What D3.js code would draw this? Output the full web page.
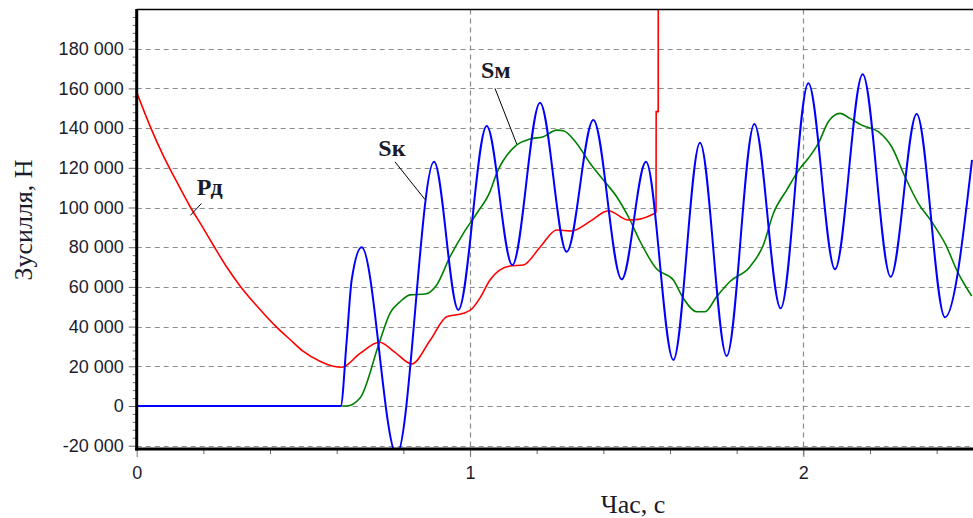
<!DOCTYPE html>
<html><head><meta charset="utf-8">
<script src="https://cdn.jsdelivr.net/npm/d3@7/dist/d3.min.js"></script>
<style>body{margin:0;background:#fff}svg{display:block}</style>
</head><body><svg id="c" width="973" height="518"></svg>
<script>
// ---- data ----
const yTickValues = [-20000, 0, 20000, 40000, 60000, 80000, 100000, 120000, 140000, 160000, 180000];
const xTickValues = [0, 1, 2];
const xTickLabels = ["0", "1", "2"];
const yTitle = "Зусилля, Н";
const xTitle = "Час, с";

// Pд (red)
const pdT = [0, 0.04, 0.08, 0.12, 0.16, 0.2, 0.23, 0.27, 0.31, 0.36, 0.415, 0.46, 0.5, 0.55, 0.59, 0.615,
  0.67, 0.728, 0.775, 0.825, 0.88, 0.93, 0.98, 1.006, 1.03, 1.06, 1.12, 1.16, 1.21, 1.26, 1.305, 1.36, 1.415, 1.475, 1.504, 1.558];
const pdV = [158000, 141000, 126000, 113000, 100500, 89500, 81000, 70000, 60500, 50500, 40500, 33500, 27500, 22500, 20000, 19500,
  26500, 32100, 27000, 21200, 33000, 45000, 46700, 49000, 54500, 63500, 70500, 71000, 80000, 88700, 88200, 93000, 98400, 93700, 94000, 97400];
// Pд jump at the end
const pdJumpT = [1.558, 1.5585, 1.5645, 1.565];
const pdJumpV = [97400, 148300, 148300, 260000];

// Sк (blue)
const skT = [0, 0.612, 0.63, 0.645, 0.675, 0.78, 0.892, 0.965, 1.05, 1.127, 1.21, 1.29, 1.37, 1.455, 1.528,
  1.61, 1.69, 1.77, 1.853, 1.932, 2.015, 2.095, 2.178, 2.262, 2.34, 2.425, 2.506];
const skV = [0, 0, 33000, 63500, 80000, -24500, 123000, 48400, 141000, 71000, 152800, 77700, 144100, 63800, 123000,
  23200, 132600, 25200, 142100, 49200, 162600, 68900, 167100, 65100, 147100, 44700, 124000];

// Sм (green)
const smT = [0.612, 0.63, 0.67, 0.728, 0.76, 0.79, 0.82, 0.865, 0.9, 0.94, 0.98, 1.02, 1.06, 1.08, 1.14, 1.18, 1.22, 1.26, 1.28,
  1.32, 1.36, 1.4, 1.44, 1.48, 1.51, 1.56, 1.61, 1.64, 1.68, 1.705, 1.74, 1.78, 1.84, 1.88, 1.91, 1.95, 1.99, 2.015, 2.045,
  2.075, 2.11, 2.14, 2.175, 2.225, 2.265, 2.305, 2.345, 2.385, 2.425, 2.465, 2.505];
const smV = [0, 0, 4000, 32000, 46800, 52500, 56000, 56400, 61000, 75200, 87000, 97000, 108000, 117200, 131500, 134500, 135700, 139000, 138700,
  132300, 122300, 113900, 105400, 93700, 83000, 69000, 63500, 54300, 47500, 47500, 55100, 62700, 70200, 81100, 97000, 108800, 119700, 124800, 132300,
  143200, 147400, 144900, 141500, 138200, 130600, 115500, 102100, 92800, 81900, 66800, 55400];

const labels = [
  {text: "Рд", t: 0.18, v: 106300, lt: [0.194, 0.161], lv: [102000, 96000]},
  {text: "Sк", t: 0.725, v: 126000, lt: [0.775, 0.865], lv: [123000, 104000]},
  {text: "Sм", t: 1.033, v: 165000, lt: [1.075, 1.14], lv: [160000, 132000]}
];

// ---- drawing ----
const svg = d3.select("#c");
svg.append("rect").attr("width", 973).attr("height", 518).attr("fill", "#fff");

const x = d3.scaleLinear().domain([0, 2.509]).range([136.7, 973]);
const y = d3.scaleLinear().domain([-21660, 199750]).range([449, 9.5]);
const X0 = x.range()[0], X1 = x.range()[1], Y0 = y.range()[0], Y1 = y.range()[1];

svg.append("defs").append("clipPath").attr("id", "clip")
  .append("rect").attr("x", X0).attr("y", Y1).attr("width", X1 - X0).attr("height", Y0 - Y1);

const gridColor = "#8c8c8c";
// horizontal grid
svg.append("g").selectAll("line").data(yTickValues).join("line")
  .attr("x1", X0).attr("x2", X1).attr("y1", d => Math.round(y(d)) + 0.5).attr("y2", d => Math.round(y(d)) + 0.5)
  .attr("stroke", gridColor).attr("stroke-width", 1.2).attr("stroke-dasharray", "5,4");
// vertical grid
svg.append("g").selectAll("line").data(xTickValues.filter(d => d > 0)).join("line")
  .attr("x1", d => Math.round(x(d)) + 0.5).attr("x2", d => Math.round(x(d)) + 0.5).attr("y1", Y1).attr("y2", Y0 + 10)
  .attr("stroke", gridColor).attr("stroke-width", 1.2).attr("stroke-dasharray", "5,4");

// y axis ticks
const fmtLocale = d3.formatLocale({decimal: ".", thousands: " ", grouping: [3], currency: ["", ""], minus: "-"});
const fmt = fmtLocale.format(",d");
const yMinor = d3.range(-20000, 199000, 4000).filter(v => v % 20000 !== 0);
const ya = svg.append("g").attr("transform", `translate(${X0},0)`)
  .call(d3.axisLeft(y).tickValues(yTickValues).tickSize(8).tickPadding(5).tickFormat(fmt));
ya.select(".domain").remove();
ya.selectAll("line").attr("stroke", "#666");
ya.selectAll("text").attr("font-family", "'Liberation Sans', Arial, sans-serif").attr("font-size", 18).attr("fill", "#1c1c2c");
const yam = svg.append("g").attr("transform", `translate(${X0},0)`)
  .call(d3.axisLeft(y).tickValues(yMinor).tickSize(4).tickFormat(""));
yam.select(".domain").remove();
yam.selectAll("line").attr("stroke", "#777");

// x axis ticks
const xMinor = d3.range(0.2, 2.5, 0.2).filter(v => Math.abs(v - Math.round(v)) > 1e-6);
const xa = svg.append("g").attr("transform", `translate(0,${Y0})`)
  .call(d3.axisBottom(x).tickValues(xTickValues).tickSize(8).tickFormat((d, i) => xTickLabels[i]));
xa.select(".domain").remove();
xa.selectAll("line").attr("stroke", "#777");
xa.selectAll("text").attr("y", 30).attr("dy", 0)
  .attr("font-family", "'Liberation Sans', Arial, sans-serif").attr("font-size", 18).attr("fill", "#1c1c2c");
const xam = svg.append("g").attr("transform", `translate(0,${Y0})`)
  .call(d3.axisBottom(x).tickValues(xMinor).tickSize(5).tickFormat(""));
xam.select(".domain").remove();
xam.selectAll("line").attr("stroke", "#666");

// curves
const plot = svg.append("g").attr("clip-path", "url(#clip)");
const lineM = d3.line().x(d => x(d[0])).y(d => y(d[1])).curve(d3.curveMonotoneX);
const lineL = d3.line().x(d => x(d[0])).y(d => y(d[1]));
const zip = (a, b) => a.map((v, i) => [v, b[i]]);

plot.append("path").attr("d", lineM(zip(smT, smV))).attr("fill", "none").attr("stroke", "#008000").attr("stroke-width", 1.6);
plot.append("path").attr("d", lineM(zip(pdT, pdV))).attr("fill", "none").attr("stroke", "#ff0000").attr("stroke-width", 1.6);
plot.append("path").attr("d", lineL(zip(pdJumpT, pdJumpV))).attr("fill", "none").attr("stroke", "#ff0000").attr("stroke-width", 1.6);
plot.append("path").attr("d", lineM(zip(skT, skV))).attr("fill", "none").attr("stroke", "#0000ff").attr("stroke-width", 2);

// frame
svg.append("line").attr("x1", X0).attr("x2", X1).attr("y1", Y1).attr("y2", Y1).attr("stroke", "#000").attr("stroke-width", 1.3);
svg.append("line").attr("x1", X0).attr("x2", X0).attr("y1", Y1 - 0.5).attr("y2", Y0 + 1.5).attr("stroke", "#000").attr("stroke-width", 3);
svg.append("line").attr("x1", X0 - 1.5).attr("x2", X1).attr("y1", Y0).attr("y2", Y0).attr("stroke", "#000").attr("stroke-width", 3);

// annotations
labels.forEach(l => {
  svg.append("line").attr("x1", x(l.lt[0])).attr("y1", y(l.lv[0])).attr("x2", x(l.lt[1])).attr("y2", y(l.lv[1]))
    .attr("stroke", "#000").attr("stroke-width", 1);
  svg.append("text").attr("x", x(l.t)).attr("y", y(l.v)).text(l.text)
    .attr("font-family", "'Liberation Serif', 'Times New Roman', serif").attr("font-weight", "bold")
    .attr("font-size", 24).attr("fill", "#1a1a2a");
});

// titles
svg.append("text").attr("transform", "translate(32,220) rotate(-90)").attr("text-anchor", "middle")
  .attr("font-family", "'Liberation Serif', 'Times New Roman', serif").attr("font-size", 26).attr("fill", "#1a1a2a").text(yTitle);
svg.append("text").attr("x", 633).attr("y", 513).attr("text-anchor", "middle")
  .attr("font-family", "'Liberation Serif', 'Times New Roman', serif").attr("font-size", 26).attr("fill", "#1a1a2a").text(xTitle);
</script></body></html>
